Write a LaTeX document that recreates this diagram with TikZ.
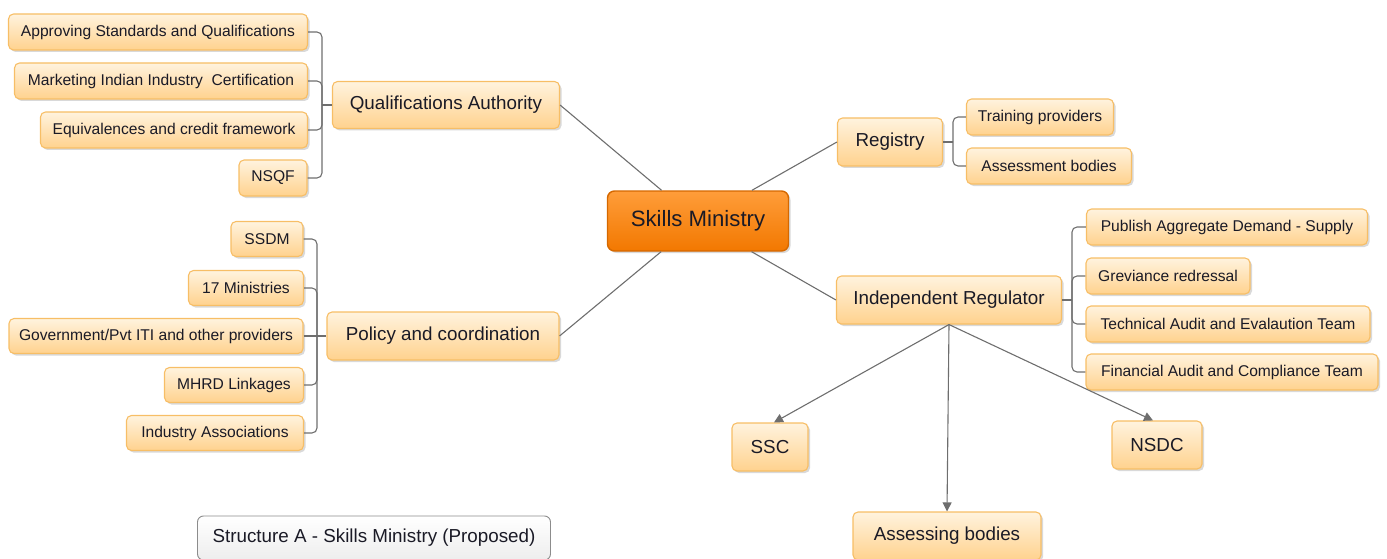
\documentclass[tikz,border=0pt]{standalone}
\usepackage{fontspec}
\setmainfont{Liberation Sans}
\usetikzlibrary{shadows,arrows.meta,calc}
\definecolor{boxtop}{HTML}{FFF3DE}
\definecolor{boxbot}{HTML}{FFD28E}
\definecolor{boxline}{HTML}{F7BE66}
\definecolor{hubtop}{HTML}{FF9D3A}
\definecolor{hubbot}{HTML}{F27800}
\definecolor{hubline}{HTML}{D56800}
\definecolor{linkgray}{HTML}{6E6E6E}
\definecolor{inkdark}{HTML}{1A1A26}
\tikzset{
  leaf/.style={draw=boxline, line width=1.1pt, rounded corners=5pt,
    top color=boxtop, bottom color=boxbot, text=inkdark,
    font=\fontsize{15.6}{18}\selectfont, inner sep=0pt,
    drop shadow={shadow xshift=2pt, shadow yshift=-2pt, opacity=0.25, fill=black!60}},
  branch/.style={leaf, font=\fontsize{18.8}{22}\selectfont},
  hub/.style={draw=hubline, line width=1.4pt, rounded corners=7pt,
    top color=hubtop, bottom color=hubbot, text=inkdark,
    font=\fontsize{22.2}{26}\selectfont, inner sep=0pt,
    drop shadow={shadow xshift=2pt, shadow yshift=-2pt, opacity=0.25, fill=black!60}},
  caption/.style={draw=black!45, line width=0.9pt, rounded corners=6pt,
    top color=white, bottom color=black!7, text=inkdark,
    font=\fontsize{18.8}{22}\selectfont, inner sep=0pt},
  link/.style={draw=linkgray, line width=1.1pt},
  elbow/.style={draw=linkgray, line width=1.1pt, rounded corners=5pt},
  arrowlink/.style={link, -{Triangle[length=9pt,width=9pt]}}
}
\begin{document}
\begin{tikzpicture}[x=1pt,y=-1pt]
\useasboundingbox (0,0) rectangle (1387,559);

% central node
\node[hub, minimum width=181pt, minimum height=60pt] (sm) at (698,221) {Skills Ministry};

% main branches
\node[branch, minimum width=227pt, minimum height=47pt] (qa) at (446,105) {Qualifications Authority};
\node[branch, minimum width=232pt, minimum height=48pt] (pc) at (443,336) {Policy and coordination};
\node[branch, minimum width=105pt, minimum height=48pt] (rg) at (890,142) {Registry};
\node[branch, minimum width=225pt, minimum height=48pt] (ir) at (949,300) {Independent Regulator};

% qualifications authority leaves
\node[leaf, minimum width=299pt, minimum height=36pt] (q1) at (158,32) {Approving Standards and Qualifications};
\node[leaf, minimum width=293pt, minimum height=36pt] (q2) at (161,81) {Marketing Indian Industry\ \ Certification};
\node[leaf, minimum width=267pt, minimum height=36pt] (q3) at (174,130) {Equivalences and credit framework};
\node[leaf, minimum width=68pt, minimum height=36pt] (q4) at (273,178) {NSQF};

% policy and coordination leaves
\node[leaf, minimum width=72pt, minimum height=35pt] (p1) at (267,239) {SSDM};
\node[leaf, minimum width=115pt, minimum height=35pt] (p2) at (246,288) {17 Ministries};
\node[leaf, minimum width=294pt, minimum height=35pt] (p3) at (156,336) {Government/Pvt ITI and other providers};
\node[leaf, minimum width=139pt, minimum height=35pt] (p4) at (234,385) {MHRD Linkages};
\node[leaf, minimum width=177pt, minimum height=35pt] (p5) at (215,433) {Industry Associations};

% registry leaves
\node[leaf, minimum width=147pt, minimum height=36pt] (r1) at (1040,117) {Training providers};
\node[leaf, minimum width=165pt, minimum height=36pt] (r2) at (1049,166) {Assessment bodies};

% regulator leaves
\node[leaf, minimum width=281pt, minimum height=36pt] (i1) at (1227,227) {Publish Aggregate Demand - Supply};
\node[leaf, minimum width=164pt, minimum height=36pt] (i2) at (1168,276) {Greviance redressal};
\node[leaf, minimum width=284pt, minimum height=36pt] (i3) at (1228,324) {Technical Audit and Evalaution Team};
\node[leaf, minimum width=292pt, minimum height=36pt] (i4) at (1232,372) {Financial Audit and Compliance Team};

% bodies under the regulator
\node[branch, minimum width=76pt, minimum height=48pt] (ssc) at (770,447) {SSC};
\node[branch, minimum width=90pt, minimum height=48pt] (nsdc) at (1157,445) {NSDC};
\node[branch, minimum width=188pt, minimum height=48pt] (ab) at (947,536) {Assessing bodies};

% caption
\node[caption, minimum width=353pt, minimum height=44pt] (cap) at (374,538) {Structure A - Skills Ministry (Proposed)};

% spokes from the central node
\draw[link] (qa.east) -- (sm);
\draw[link] (pc.east) -- (sm);
\draw[link] (rg.west) -- (sm);
\draw[link] (ir.west) -- (sm);

% bracket joints
\coordinate (qx) at (322,0);
\coordinate (px) at (317,0);
\coordinate (rx) at (953,0);
\coordinate (ix) at (1072,0);

% brackets: one rounded elbow per child, plus a straight stub into the parent
\foreach \n in {q1,q2,q3,q4}
  \draw[elbow] (\n.east) -- (\n.east -| qx) -- (qx |- qa.west);
\draw[link] (qx |- qa.west) -- (qa.west);
\foreach \n in {p1,p2,p4,p5}
  \draw[elbow] (\n.east) -- (\n.east -| px) -- (px |- pc.west);
\draw[link] (p3.east) -- (pc.west);
\foreach \n in {r1,r2}
  \draw[elbow] (\n.west) -- (\n.west -| rx) -- (rx |- rg.east);
\draw[link] (rx |- rg.east) -- (rg.east);
\foreach \n in {i1,i2,i3,i4}
  \draw[elbow] (\n.west) -- (\n.west -| ix) -- (ix |- ir.east);
\draw[link] (ix |- ir.east) -- (ir.east);

% arrows from the regulator
\draw[arrowlink] (ir.south) -- ($(ssc.north)+(4,0)$);
\draw[arrowlink] (ir.south) -- (ab.north);
\draw[arrowlink] (ir.south) -- ($(nsdc.north)+(-4,0)$);
\end{tikzpicture}
\end{document}
